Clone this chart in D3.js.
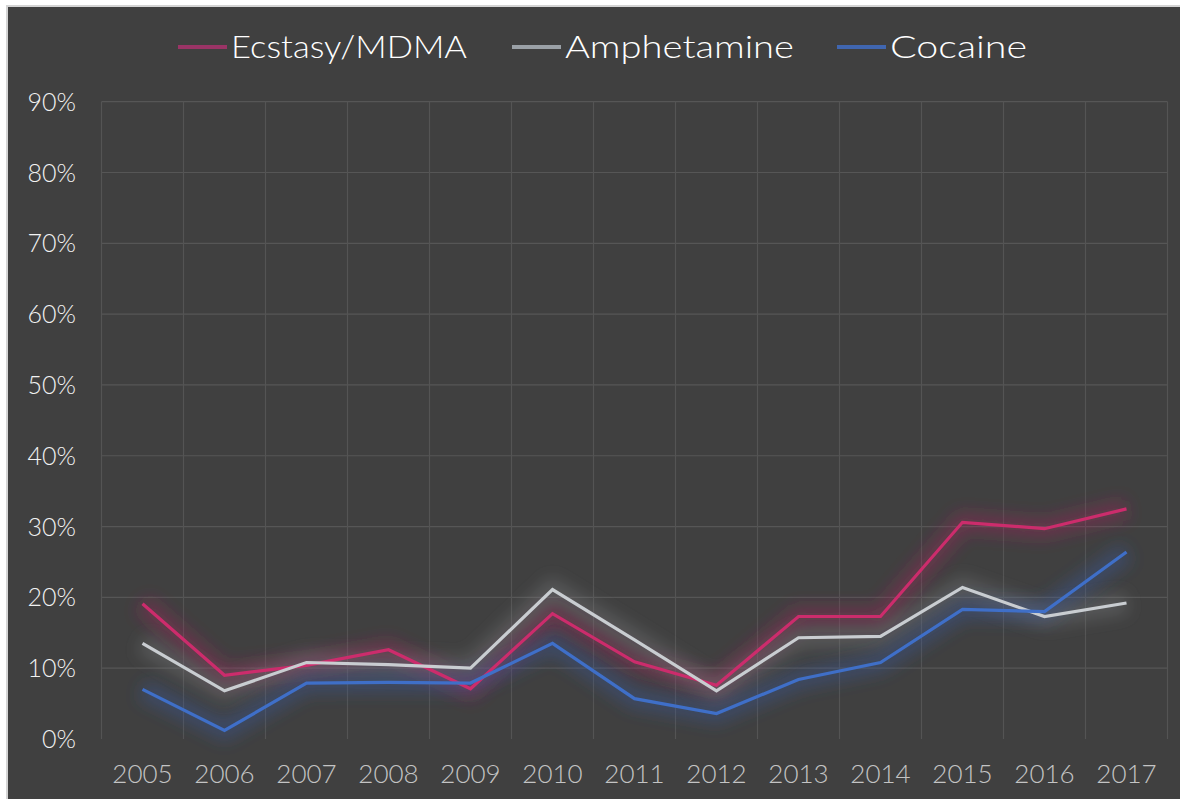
<!DOCTYPE html>
<html><head><meta charset="utf-8">
<script src="https://cdn.jsdelivr.net/npm/d3@7/dist/d3.min.js"></script>
<style>
html,body{margin:0;padding:0;background:#fff;}
svg{display:block;}
</style></head>
<body><svg id="chart" width="1180" height="799"></svg>
<script>
const years = ["2005","2006","2007","2008","2009","2010","2011","2012","2013","2014","2015","2016","2017"];
const ecstasy = [19.1, 9.0, 10.4, 12.6, 7.1, 17.7, 10.9, 7.6, 17.3, 17.3, 30.6, 29.7, 32.5];
const amphetamine = [13.5, 6.8, 10.8, 10.5, 10.0, 21.1, 14.0, 6.8, 14.3, 14.5, 21.4, 17.3, 19.2];
const cocaine = [7.0, 1.2, 7.9, 8.0, 7.9, 13.5, 5.7, 3.6, 8.4, 10.8, 18.3, 18.0, 26.4];
const yTicks = [0, 10, 20, 30, 40, 50, 60, 70, 80, 90];
const seriesNames = ["Ecstasy/MDMA", "Amphetamine", "Cocaine"];

const series = [
  {name: seriesNames[0], values: ecstasy, color: "#cc2c6c", legendColor: "#9a3466", glow: "#a02a5c"},
  {name: seriesNames[1], values: amphetamine, color: "#c9cdd1", legendColor: "#9aa0a6", glow: "#7a7d80"},
  {name: seriesNames[2], values: cocaine, color: "#3f6fc8", legendColor: "#4066b0", glow: "#34589e"}
];

const svg = d3.select("#chart");
const W = 1180, H = 799;
const font = "Lato, 'DejaVu Sans', sans-serif";

// frame
svg.append("rect").attr("x", 0).attr("y", 0).attr("width", W).attr("height", H).attr("fill", "#ffffff");
svg.append("rect").attr("x", 6).attr("y", 5).attr("width", W - 6).attr("height", H - 5).attr("fill", "#d4d4d4");
svg.append("rect").attr("x", 8).attr("y", 7).attr("width", W - 8).attr("height", H - 7).attr("fill", "#404040");

const plot = {left: 101.5, right: 1167.5, top: 101.7, bottom: 739};

const x = d3.scaleBand().domain(years).range([plot.left, plot.right]).padding(0);
const y = d3.scaleLinear().domain([0, 90]).range([plot.bottom, plot.top]);

const defs = svg.append("defs");
series.forEach((s, i) => {
  const f = defs.append("filter").attr("id", "glow" + i)
    .attr("x", "-10%").attr("y", "-60%").attr("width", "120%").attr("height", "220%");
  f.append("feGaussianBlur").attr("in", "SourceGraphic").attr("stdDeviation", 8);
});

// grid
const g = svg.append("g");
g.selectAll("line.h").data(yTicks.filter(d => d > 0)).join("line")
  .attr("x1", plot.left).attr("x2", plot.right)
  .attr("y1", d => y(d)).attr("y2", d => y(d))
  .attr("stroke", "#565656").attr("stroke-width", 1.2);
const vlines = years.map(d => x(d)).concat([plot.right]);
g.selectAll("line.v").data(vlines).join("line")
  .attr("x1", d => d).attr("x2", d => d)
  .attr("y1", plot.top).attr("y2", plot.bottom)
  .attr("stroke", "#545454").attr("stroke-width", 1.2);

// y labels
svg.append("g").selectAll("text").data(yTicks).join("text")
  .attr("x", 76).attr("y", d => y(d))
  .attr("dy", "0.36em")
  .attr("text-anchor", "end")
  .attr("font-family", font).attr("font-size", 25).attr("font-weight", 300)
  .attr("fill", "#f2f2f2")
  .text(d => d + "%");

// x labels
svg.append("g").selectAll("text").data(years).join("text")
  .attr("x", d => x(d) + x.bandwidth() / 2).attr("y", 783)
  .attr("text-anchor", "middle")
  .attr("font-family", font).attr("font-size", 26).attr("font-weight", 300)
  .attr("fill", "#c4c4c4")
  .text(d => d);

const line = d3.line().x((d, i) => x(years[i]) + x.bandwidth() / 2).y(d => y(d));

// glows
series.forEach((s, i) => {
  svg.append("path").datum(s.values).attr("d", line)
    .attr("fill", "none").attr("stroke", s.glow).attr("stroke-width", 20)
    .attr("stroke-opacity", 0.4).attr("stroke-linejoin", "miter")
    .attr("filter", "url(#glow" + i + ")");
});
// lines
series.forEach((s, i) => {
  svg.append("path").datum(s.values).attr("d", line)
    .attr("fill", "none").attr("stroke", s.color).attr("stroke-width", 3.2)
    .attr("stroke-linejoin", "miter");
});

// legend
const legendItems = [
  {segX: 178, textX: 231, textW: 236},
  {segX: 512, textX: 565, textW: 229},
  {segX: 837, textX: 890, textW: 137}
];
series.forEach((s, i) => {
  const L = legendItems[i];
  svg.append("line").attr("x1", L.segX).attr("x2", L.segX + 49)
    .attr("y1", 47).attr("y2", 47)
    .attr("stroke", s.legendColor).attr("stroke-width", 4);
  svg.append("text").attr("x", L.textX).attr("y", 58)
    .attr("font-family", font).attr("font-size", 32).attr("font-weight", 300)
    .attr("fill", "#ffffff")
    .attr("textLength", L.textW).attr("lengthAdjust", "spacingAndGlyphs")
    .text(s.name);
});
</script></body></html>
